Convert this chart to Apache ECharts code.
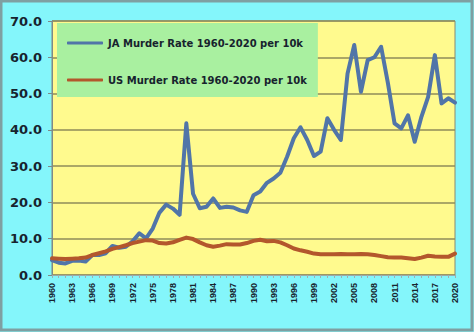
<!DOCTYPE html>
<html>
<head>
<meta charset="utf-8">
<script src="https://cdn.jsdelivr.net/npm/echarts@6/dist/echarts.min.js"></script>
<style>
html,body{margin:0;padding:0;background:#84f6fb;}
#chart{width:474px;height:332px;}
</style>
</head>
<body>
<div id="chart"></div>
<script>
var years = [];
for (var y = 1960; y <= 2020; y++) years.push(String(y));

var jaName = 'JA Murder Rate 1960-2020 per 10k';
var usName = 'US Murder Rate 1960-2020 per 10k';

var jaRate = [4.1,3.4,3.2,3.9,4.0,3.7,5.5,5.5,6.0,8.0,
              7.5,7.8,9.3,11.5,10.1,12.8,17.2,19.4,18.3,16.6,
              41.8,22.4,18.4,18.8,21.1,18.5,18.8,18.6,17.8,17.4,
              22.0,23.0,25.4,26.6,28.2,32.6,37.7,40.7,37.2,32.8,
              34.0,43.2,40.0,37.2,55.5,63.4,50.5,59.2,60.0,62.9,
              53.0,41.8,40.4,44.0,36.7,43.6,49.1,60.6,47.3,48.7,
              47.5];

var usRate = [4.6,4.5,4.4,4.5,4.6,4.8,5.5,6.0,6.5,7.2,
              7.7,8.2,8.8,9.2,9.6,9.5,8.8,8.7,9.0,9.7,
              10.3,9.9,9.0,8.2,7.8,8.1,8.5,8.4,8.4,8.8,
              9.4,9.7,9.3,9.4,9.0,8.2,7.3,6.8,6.4,5.9,
              5.7,5.7,5.7,5.8,5.7,5.7,5.8,5.7,5.5,5.2,
              4.9,4.8,4.8,4.6,4.4,4.8,5.3,5.1,5.0,5.0,
              5.9];

var yMin = 0, yMax = 70, yStep = 10;

var chart = echarts.init(document.getElementById('chart'), null, {renderer: 'svg'});
var textColor = '#17232e';
chart.setOption({
  backgroundColor: '#84f6fb',
  animation: false,
  graphic: [{
    type: 'rect',
    shape: {x: 1, y: 1, width: 471, height: 329},
    style: {fill: 'none', stroke: '#7f9fa2', lineWidth: 3},
    silent: true, z: 100
  }],
  grid: {
    left: 52, top: 21, right: 19, bottom: 57,
    show: true, backgroundColor: '#fffa8e', borderColor: '#8a8a70', borderWidth: 1
  },
  legend: {
    orient: 'vertical',
    left: 57, top: 23,
    backgroundColor: '#a9f0a0',
    padding: [13, 11, 10, 10],
    itemGap: 23,
    itemWidth: 36, itemHeight: 3,
    icon: 'roundRect',
    textStyle: {fontFamily: 'DejaVu Sans', fontWeight: 'bold', fontSize: 10, color: textColor, lineHeight: 14},
    data: [jaName, usName]
  },
  xAxis: {
    type: 'category',
    data: years,
    boundaryGap: false,
    axisLine: {show: true, lineStyle: {color: '#9aa8a8', width: 1}},
    axisTick: {show: true, interval: 0, length: 3, lineStyle: {color: '#9fb0b0'}},
    axisLabel: {
      interval: 2,
      rotate: 90,
      fontWeight: 'bold', fontSize: 9, color: textColor
    },
    splitLine: {show: false}
  },
  yAxis: {
    type: 'value',
    min: yMin, max: yMax, interval: yStep,
    axisLine: {show: true, lineStyle: {color: '#7d8a8a', width: 1}},
    axisTick: {show: true, length: 4, lineStyle: {color: '#7d8a8a'}},
    axisLabel: {
      margin: 10,
      formatter: function (v) { return v.toFixed(1); },
      fontFamily: 'DejaVu Sans', fontWeight: 'bold', fontSize: 13, color: textColor
    },
    splitLine: {show: true, lineStyle: {color: '#8f8b58', width: 1.5}}
  },
  series: [
    {
      name: jaName, type: 'line', data: jaRate,
      symbol: 'none', smooth: false,
      lineStyle: {color: '#5175a8', width: 4, cap: 'round', join: 'round'},
      itemStyle: {color: '#5175a8'},
      z: 2
    },
    {
      name: usName, type: 'line', data: usRate,
      symbol: 'none', smooth: false,
      lineStyle: {color: '#b3572c', width: 4, cap: 'round', join: 'round'},
      itemStyle: {color: '#b3572c'},
      z: 3
    }
  ]
});
</script>
</body>
</html>
